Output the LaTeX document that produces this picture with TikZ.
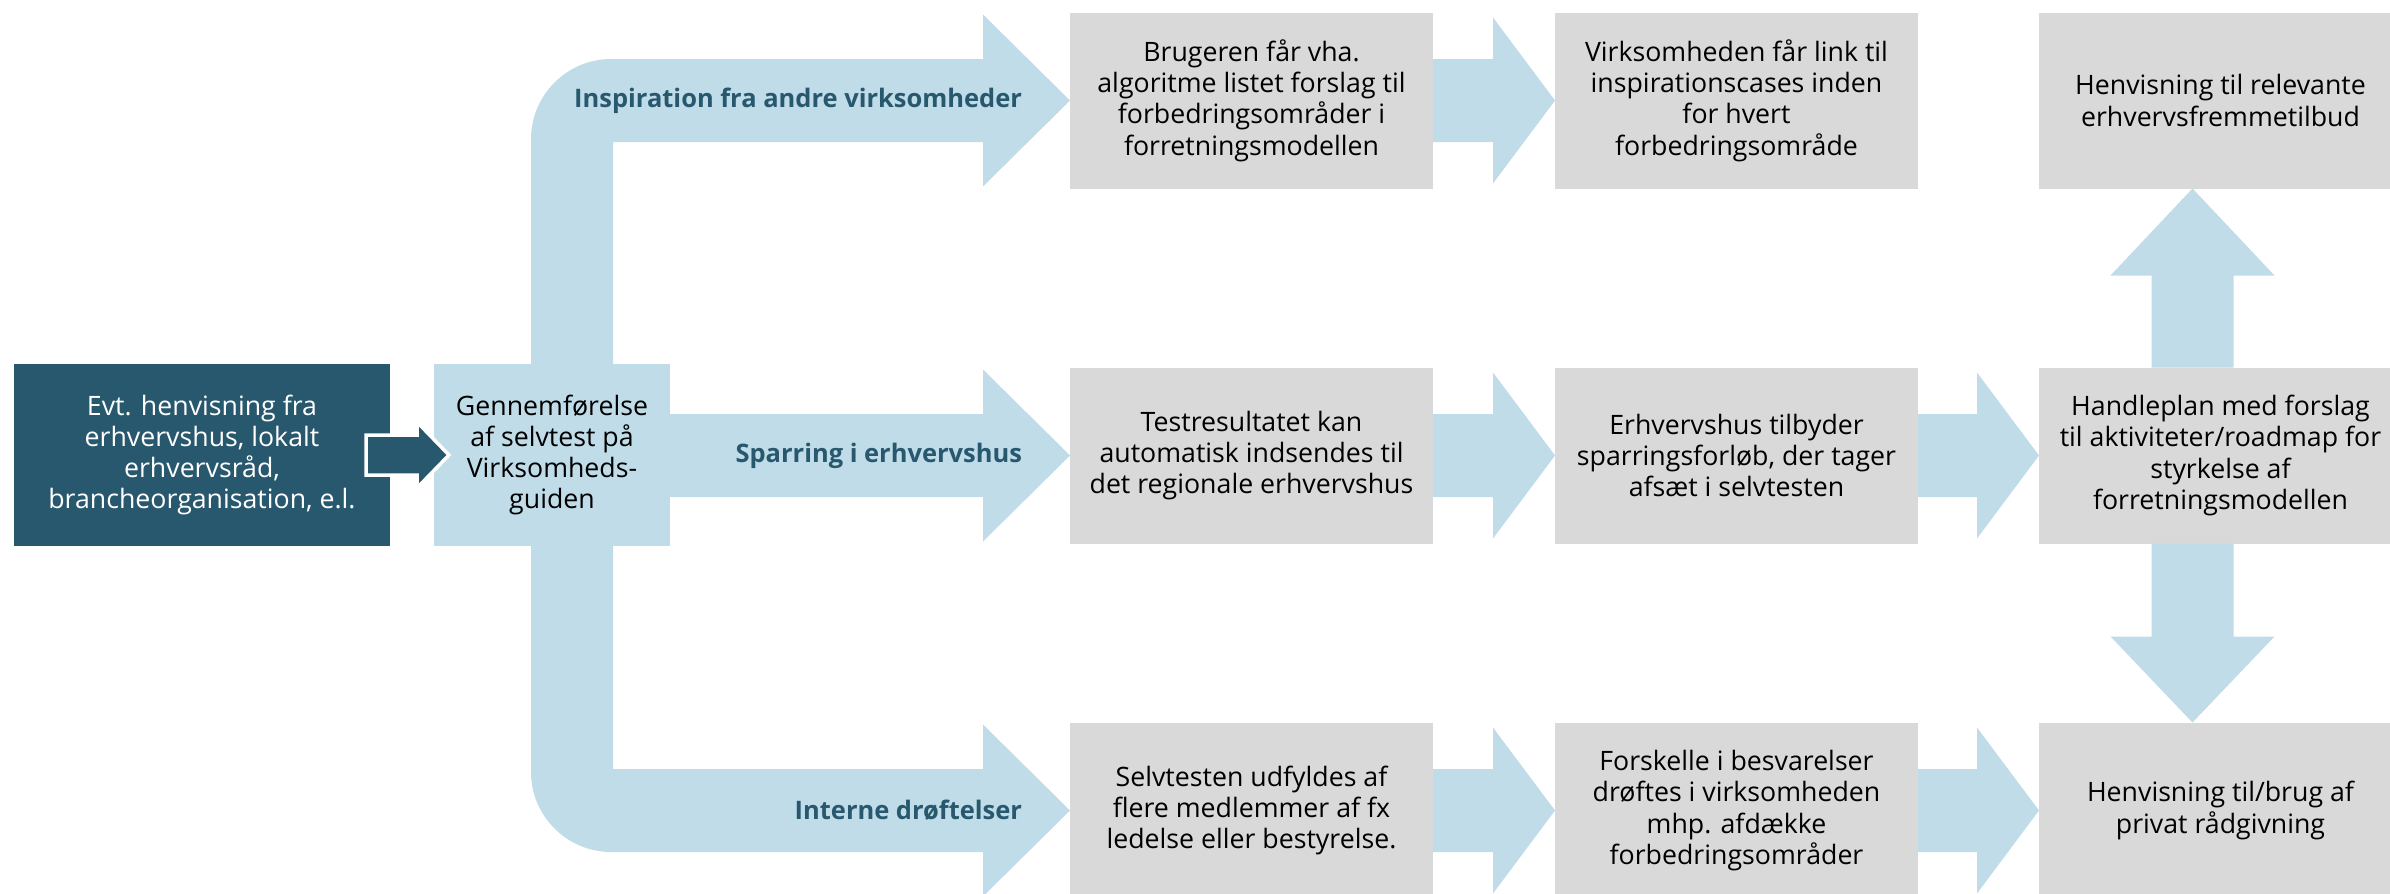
\documentclass[tikz,border=0pt]{standalone}
\usepackage{fontspec}
\setmainfont{Open Sans}
\usetikzlibrary{positioning,calc}

\definecolor{darkteal}{RGB}{40,88,110}
\definecolor{paleblue}{RGB}{191,220,232}
\definecolor{boxgray}{RGB}{217,217,217}

\begin{document}
\begin{tikzpicture}[x=0.1mm,y=-0.1mm,
  every node/.style={align=center,inner sep=0pt,outer sep=0pt,font=\fontsize{7.6}{8.9}\selectfont},
  graybox/.style={fill=boxgray,minimum width=36.3mm,minimum height=17.6mm},
  band/.style={fill=paleblue},
  bandlabel/.style={anchor=east,text=darkteal,font=\fontsize{7.25}{8.5}\selectfont\bfseries}]
  \useasboundingbox (0,0) rectangle (2390,894);

  % the three rows of steps
  \node[graybox] (b1) at (1251.5,455.5) {Testresultatet kan\\automatisk indsendes til\\det regionale erhvervshus};
  \node[graybox,above=17.9mm of b1] (a1) {Brugeren får vha.\\algoritme listet forslag til\\forbedringsområder i\\forretningsmodellen};
  \node[graybox,below=17.9mm of b1] (c1) {Selvtesten udfyldes af\\flere medlemmer af fx\\ledelse eller bestyrelse.};
  \node[graybox,right=12.2mm of a1] (a2) {Virksomheden får link til\\inspirationscases inden\\for hvert\\forbedringsområde};
  \node[graybox,right=12.2mm of b1] (b2) {Erhvervshus tilbyder\\sparringsforløb, der tager\\afsæt i selvtesten};
  \node[graybox,right=12.2mm of c1] (c2) {Forskelle i besvarelser\\drøftes i virksomheden\\mhp. afdække\\forbedringsområder};
  \node[graybox,right=12.1mm of a2] (a3) {Henvisning til relevante\\erhvervsfremmetilbud};
  \node[graybox,right=12.1mm of b2] (b3) {Handleplan med forslag\\til aktiviteter/roadmap for\\styrkelse af\\forretningsmodellen};
  \node[graybox,right=12.1mm of c2] (c3) {Henvisning til/brug af\\privat rådgivning};

  % stem with rounded outer corners
  \path (a1.west) ++(-539,-41.5) coordinate (stemtop) (c1.west) ++(-539,41.5) coordinate (stembot);
  \fill[band] ($(stemtop)+(82,0)$) -- ($(stemtop)+(80,0)$) .. controls ($(stemtop)+(36,0)$) and ($(stemtop)+(0,36)$) .. ($(stemtop)+(0,80)$)
    -- ($(stembot)+(0,-80)$) .. controls ($(stembot)+(0,-36)$) and ($(stembot)+(36,0)$) .. ($(stembot)+(80,0)$) -- ($(stembot)+(82,0)$) -- cycle;
  \foreach \row in {a1,b1,c1}
    \fill[band] ($(\row.west)+(-465,-41.5)$) -- ($(\row.west)+(-87,-41.5)$) -- ($(\row.west)+(-87,-86)$) -- (\row.west)
      -- ($(\row.west)+(-87,86)$) -- ($(\row.west)+(-87,41.5)$) -- ($(\row.west)+(-465,41.5)$) -- cycle;

  \node[bandlabel,left=4.8mm of a1] (insp) {Inspiration fra andre virksomheder};
  \node[bandlabel,left=4.8mm of b1] (spar) {Sparring i erhvervshus};
  \node[bandlabel,left=4.8mm of c1] (intern) {Interne drøftelser};

  % arrows between the steps
  \foreach \from/\to in {a1/a2,b1/b2,b2/b3,c1/c2,c2/c3}
    \fill[band] ($(\from.east)+(0,-41.5)$) -- ($(\to.west)+(-62,-41.5)$) -- ($(\to.west)+(-62,-83)$) -- (\to.west)
      -- ($(\to.west)+(-62,83)$) -- ($(\to.west)+(-62,41.5)$) -- ($(\from.east)+(0,41.5)$) -- cycle;

  % up and down from the action plan
  \coordinate (vx) at ($(b3.center)+(-28,0)$);
  \fill[band] ($(vx |- b3.north)+(-41,0)$) -- ($(vx |- a3.south)+(-41,87)$) -- ($(vx |- a3.south)+(-82,87)$) -- (vx |- a3.south)
    -- ($(vx |- a3.south)+(82,87)$) -- ($(vx |- a3.south)+(41,87)$) -- ($(vx |- b3.north)+(41,0)$) -- cycle;
  \fill[band] ($(vx |- b3.south)+(-41,0)$) -- ($(vx |- c3.north)+(-41,-86)$) -- ($(vx |- c3.north)+(-82,-86)$) -- (vx |- c3.north)
    -- ($(vx |- c3.north)+(82,-86)$) -- ($(vx |- c3.north)+(41,-86)$) -- ($(vx |- b3.south)+(41,0)$) -- cycle;

  % entry
  \node[fill=darkteal,text=white,minimum width=37.6mm,minimum height=18.2mm] (tip) at (202,455) {Evt. henvisning fra\\erhvervshus, lokalt\\erhvervsråd,\\brancheorganisation, e.l.};
  \node[fill=paleblue,minimum width=23.6mm,minimum height=18.2mm,right=4.4mm of tip] (test) {Gennemførelse\\af selvtest på\\Virksomheds-\\guiden};
  \filldraw[fill=darkteal,draw=white,line width=0.35mm] ($(tip.east)+(-24,-20)$) -- ($(test.west)+(-17,-20)$) -- ($(test.west)+(-17,-33)$)
    -- ($(test.west)+(15,0)$) -- ($(test.west)+(-17,33)$) -- ($(test.west)+(-17,20)$) -- ($(tip.east)+(-24,20)$) -- cycle;
\end{tikzpicture}
\end{document}
